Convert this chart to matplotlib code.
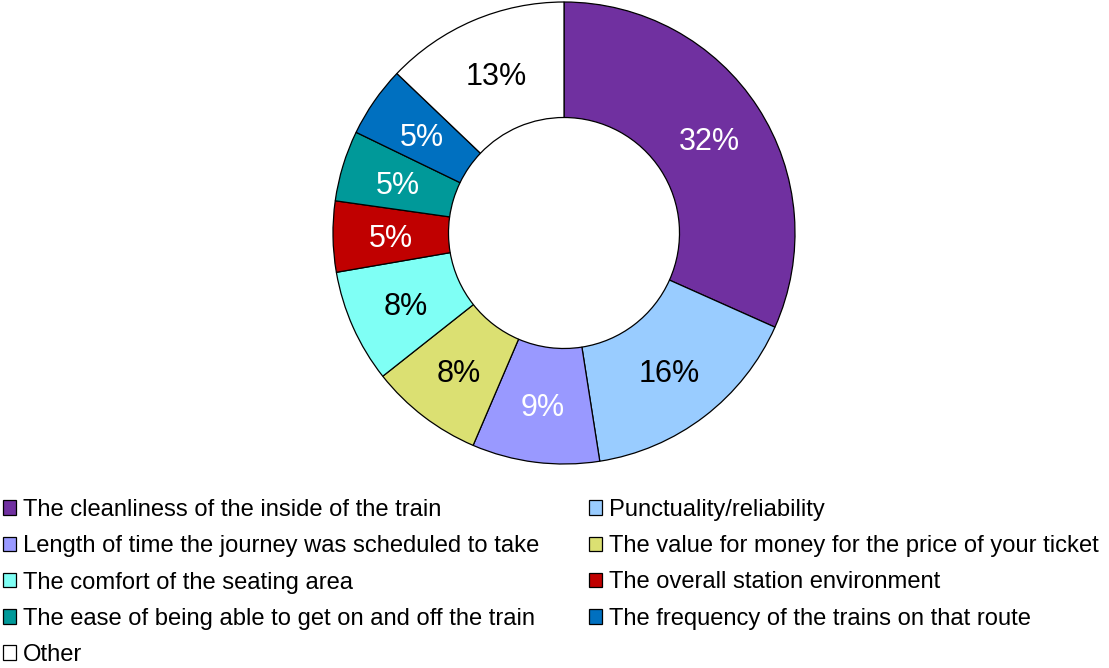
import matplotlib
matplotlib.use("Agg")
import matplotlib.pyplot as plt
import numpy as np

plt.rcParams['font.family'] = ['Liberation Sans', 'DejaVu Sans']

categories = [
    "The cleanliness of the inside of the train",
    "Punctuality/reliability",
    "Length of time the journey was scheduled to take",
    "The value for money for the price of your ticket",
    "The comfort of the seating area",
    "The overall station environment",
    "The ease of being able to get on and off the train",
    "The frequency of the trains on that route",
    "Other",
]
shares = [32, 16, 9, 8, 8, 5, 5, 5, 13]
colors = ["#7030A0", "#99CCFF", "#9999FF", "#DBE072", "#7FFFF5",
          "#C00000", "#009999", "#0070C0", "#FFFFFF"]
label_colors = ["white", "black", "white", "black", "black",
                "white", "white", "white", "black"]

W, H, DPI = 1109, 668, 100
fig = plt.figure(figsize=(W / DPI, H / DPI), dpi=DPI)

cx, cy, r = 564, 233, 231
ax = fig.add_axes([(cx - r) / W, (H - cy - r) / H, 2 * r / W, 2 * r / H])
wedges, _ = ax.pie(
    shares, colors=colors, startangle=90, counterclock=False, radius=1.0,
    wedgeprops=dict(width=0.5, edgecolor="black", linewidth=0.9),
)
ax.set_xlim(-1, 1)
ax.set_ylim(-1, 1)
ax.set_aspect("equal")
ax.axis("off")

# percentage labels centred in the ring
total = sum(shares)
start = 90.0
for val, col in zip(shares, label_colors):
    sweep = 360.0 * val / total
    mid = np.deg2rad(start - sweep / 2)
    rr = 0.75
    ax.text(rr * np.cos(mid), rr * np.sin(mid), f"{val}%", ha="center",
            va="center_baseline", fontsize=22, color=col)
    start -= sweep

# legend laid out row by row in two columns
order = [0, 2, 4, 6, 8, 1, 3, 5, 7]
fig.legend([wedges[i] for i in order], [categories[i] for i in order],
           loc="upper left", bbox_to_anchor=(3 / W, 1 - 499 / H), ncol=2,
           frameon=False, fontsize=17.1, handlelength=0.55, handleheight=0.55,
           handletextpad=0.28, columnspacing=2.12, labelspacing=0.6,
           borderpad=0, borderaxespad=0)

fig.savefig("out.png", dpi=DPI)
